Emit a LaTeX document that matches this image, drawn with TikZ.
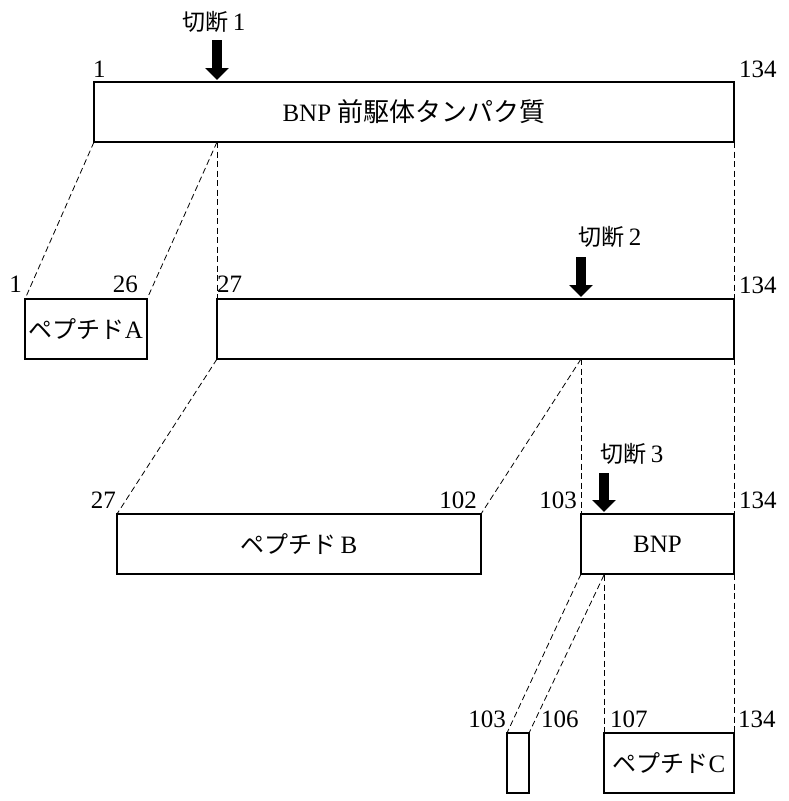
\documentclass[tikz,border=0pt]{standalone}
\usepackage{fontspec}
\setmainfont{Liberation Serif}
\newfontfamily\jp{Noto Sans CJK JP}
\usetikzlibrary{arrows.meta}
\tikzset{
  box/.style={draw=black, line width=1.8pt, inner sep=0pt, outer sep=0pt, anchor=north west, minimum height=60pt,
    font=\fontsize{25}{28}\selectfont},
  cutline/.style={draw=black, line width=0.8pt, dash pattern=on 6pt off 3.5pt},
  cutarrow/.style={draw=black, line width=10pt, -{Triangle[width=23pt,length=12pt]}, shorten >=2pt},
  numlbl/.style={inner sep=0pt, font=\fontsize{25}{30}\selectfont},
  cutlbl/.style={inner sep=0pt, anchor=base, font=\fontsize{25}{30}\selectfont}
}
\begin{document}
\begin{tikzpicture}[x=1pt, y=-1pt]
\useasboundingbox (0,0) rectangle (789,801);
% boxes
\node[box, minimum width=640pt] (pre) at (94,82) {BNP {\jp\fontsize{26}{30}\selectfont 前駆体タンパク質}};
\node[box, minimum width=122pt] (pa) at (25,299) {{\jp\fontsize{24}{28}\selectfont ペプチド}A};
\node[box, minimum width=517pt] (mid) at (217,299) {};
\node[box, minimum width=364pt] (pb) at (117,514) {{\jp\fontsize{24}{28}\selectfont ペプチド}\,B};
\node[box, minimum width=153pt] (bnp) at (581,514) {BNP};
\node[box, minimum width=22pt] (small) at (507,733) {};
\node[box, minimum width=130pt] (pc) at (604,733) {{\jp\fontsize{24}{28}\selectfont ペプチド}C};
% cut points
\coordinate (k1) at (217,142);
\coordinate (k2) at (581,359);
\coordinate (k3) at (604,575);
% dashed connectors
\draw[cutline] (pre.south west) -- (pa.north west);
\draw[cutline] (k1) -- (pa.north east);
\draw[cutline] (k1) -- (mid.north west);
\draw[cutline] (pre.south east) -- (mid.north east);
\draw[cutline] (mid.south west) -- (pb.north west);
\draw[cutline] (k2) -- (pb.north east);
\draw[cutline] (k2) -- (bnp.north west);
\draw[cutline] (mid.south east) -- (bnp.north east);
\draw[cutline] (bnp.south west) -- (small.north west);
\draw[cutline] (k3) -- (small.north east);
\draw[cutline] (k3) -- (pc.north west);
\draw[cutline] (bnp.south east) -- (pc.north east);
% cut arrows
\coordinate (a1) at (217,40);
\coordinate (a2) at (581,257);
\coordinate (a3) at (604,473);
\draw[cutarrow] (a1) -- (a1 |- pre.north);
\draw[cutarrow] (a2) -- (a2 |- mid.north);
\draw[cutarrow] (a3) -- (a3 |- bnp.north);
\node[cutlbl] (c1) at (214,30) {{\jp\fontsize{23}{28}\selectfont 切断}\,1};
\node[cutlbl] (c2) at (610,245) {{\jp\fontsize{23}{28}\selectfont 切断}\,2};
\node[cutlbl] (c3) at (632,462) {{\jp\fontsize{23}{28}\selectfont 切断}\,3};
% number labels
\node[numlbl, anchor=base west] (n1) at (93,77) {1};
\node[numlbl, anchor=base west] (n2) at (739,77) {134};
\node[numlbl, anchor=base east] (n3) at (22,292) {1};
\node[numlbl, anchor=base east] (n4) at (138,292) {26};
\node[numlbl, anchor=base west] (n5) at (217,292) {27};
\node[numlbl, anchor=base west] (n6) at (739,293) {134};
\node[numlbl, anchor=base east] (n7) at (116,508) {27};
\node[numlbl, anchor=base east] (n8) at (477,508) {102};
\node[numlbl, anchor=base east] (n9) at (577,508) {103};
\node[numlbl, anchor=base west] (n10) at (739,508) {134};
\node[numlbl, anchor=base east] (n11) at (506,727) {103};
\node[numlbl, anchor=base west] (n12) at (541,727) {106};
\node[numlbl, anchor=base west] (n13) at (610,727) {107};
\node[numlbl, anchor=base west] (n14) at (738,727) {134};
\end{tikzpicture}
\end{document}
